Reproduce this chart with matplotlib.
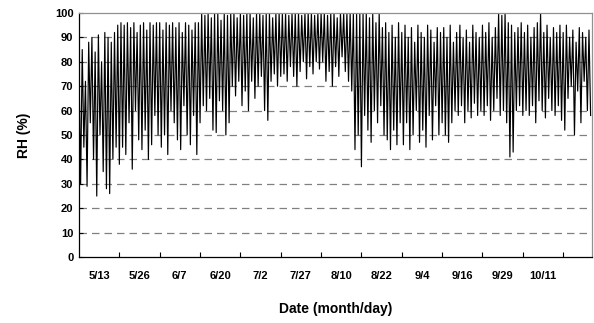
import numpy as np
import matplotlib.pyplot as plt

# daily RH extremes (%), one value per day
rh_max = [78, 85, 72, 88, 90, 84, 91, 80, 92, 90, 88, 92, 95,
          96, 95, 96, 94, 96, 92, 95, 96, 93, 96, 95, 96,
          96, 93, 96, 95, 96, 94, 96, 92, 96, 95, 93, 96, 96,
          100, 99, 100, 98, 100, 100, 97, 100, 99, 100, 100, 98,
          100, 99, 100, 100, 98, 100, 100, 99, 100, 100, 98, 100, 100,
          100, 100, 99, 100, 100, 100, 99, 100, 100, 100, 99, 100,
          100, 100, 99, 100, 100, 98, 100, 100, 100, 100, 100, 100, 100,
          100, 100, 98, 100, 96, 100, 94, 96, 92, 95, 90, 96,
          92, 95, 90, 94, 88, 95, 92, 90, 95, 93, 88, 94, 92,
          94, 90, 95, 88, 92, 95, 90, 93, 88, 95, 92, 90,
          95, 92, 96, 90, 94, 100, 99, 100, 96, 95, 92, 94, 96,
          92, 95, 90, 94, 96, 100, 92, 95, 90, 94, 92, 95,
          92, 95, 90, 93, 88, 94, 92, 90, 93]
rh_min = [30, 45, 29, 55, 40, 25, 50, 35, 28, 26, 40, 45, 38,
          45, 42, 55, 36, 60, 48, 44, 52, 40, 46, 58, 50,
          45, 50, 42, 60, 55, 48, 44, 62, 50, 46, 58, 42, 55,
          62, 60, 65, 52, 51, 64, 60, 50, 55, 70, 66, 72,
          62, 68, 60, 72, 65, 70, 74, 60, 56, 72, 75, 70, 74,
          75, 72, 78, 74, 70, 76, 80, 73, 78, 75, 80, 77,
          80, 72, 76, 70, 78, 74, 82, 76, 72, 68, 44, 50, 37,
          58, 52, 47, 60, 55, 62, 50, 48, 44, 52, 46, 55,
          46, 55, 44, 50, 60, 47, 52, 45, 58, 48, 62, 50, 55,
          50, 47, 55, 60, 58, 62, 55, 60, 57, 63, 58, 60,
          58, 62, 56, 60, 65, 58, 60, 55, 41, 43, 60, 62, 58,
          60, 58, 62, 55, 64, 60, 57, 65, 60, 58, 62, 56,
          52, 65, 70, 50, 68, 55, 72, 60, 58]
date_labels = ["5/13", "5/26", "6/7", "6/20", "7/2", "7/27", "8/10",
               "8/22", "9/4", "9/16", "9/29", "10/11"]
days_per_tick = 12.5

# interleave night maximum and afternoon minimum of each day
days = np.arange(len(rh_max))
x = np.column_stack([days, days + 0.5]).ravel()
y = np.column_stack([rh_max, rh_min]).ravel()

plt.rcParams['font.family'] = ['Liberation Sans', 'DejaVu Sans']
plt.rcParams['font.weight'] = 'bold'

fig = plt.figure(figsize=(5.94, 3.23), dpi=100)
ax = fig.add_axes([0.133, 0.204, 0.864, 0.756])

for level in range(10, 100, 10):
    ax.axhline(level, color='#808080', lw=0.9, dashes=(6, 4), zorder=1)
ax.plot(x, y, color='black', lw=0.85, zorder=2)

ax.set_xlim(0, len(rh_max))
ax.set_ylim(0, 100)
ax.set_yticks(range(0, 101, 10))

boundaries = days_per_tick * np.arange(1, len(date_labels) + 1)
ax.set_xticks(boundaries)
ax.set_xticklabels([])
ax.set_xticks(boundaries - days_per_tick / 2, minor=True)
ax.set_xticklabels(date_labels, minor=True)
ax.tick_params(axis='x', which='major', direction='in', length=3.5, width=0.8)
ax.tick_params(axis='x', which='minor', length=0, pad=10, labelsize=8)
ax.tick_params(axis='y', direction='in', length=3, width=0.8, pad=4, labelsize=8)

for side in ('top', 'right'):
    ax.spines[side].set_color('#909090')
    ax.spines[side].set_linewidth(0.9)
for side in ('left', 'bottom'):
    ax.spines[side].set_linewidth(0.9)

ax.set_xlabel("Date (month/day)", fontsize=10, fontweight='bold', labelpad=15)
ax.set_ylabel("RH (%)", fontsize=10, fontweight='bold', labelpad=17)

fig.savefig("out.png", dpi=100)
